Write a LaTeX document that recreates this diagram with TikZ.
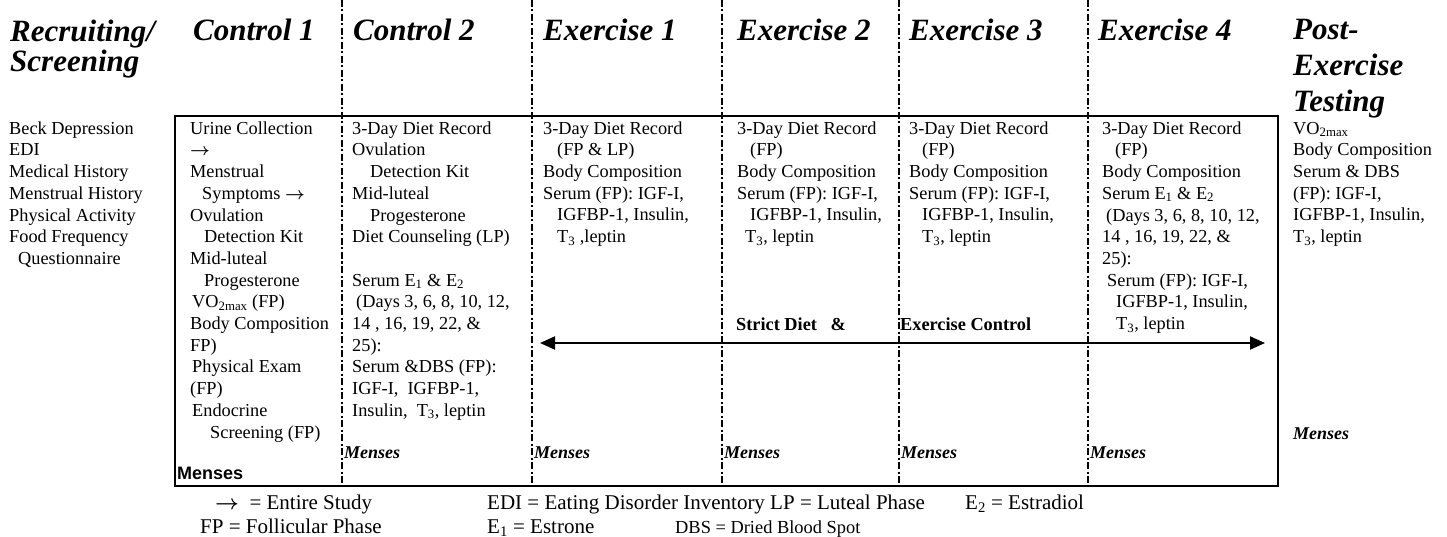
\documentclass[tikz,border=0pt]{standalone}
\usepackage{fontspec}
\setmainfont{Liberation Serif}
\newfontfamily\mensfont{Liberation Sans}
\usepackage{tikz}
\usetikzlibrary{positioning}
\usetikzlibrary{arrows.meta}
\newcommand{\colfont}{\fontsize{18.3}{21.7}\selectfont}
\newcommand{\hdrfont}{\fontsize{31}{31}\selectfont\bfseries\itshape}
\newcommand{\legfont}{\fontsize{21}{23}\selectfont}
\newcommand{\topstrut}{\rule{0pt}{15pt}}
\newcommand{\toarrow}{{\boldmath$\rightarrow$}}
\tikzstyle{hdr}=[font=\hdrfont, anchor=base west, inner sep=0pt]
\tikzstyle{col}=[font=\colfont, anchor=north west, inner sep=0pt, align=left]
\tikzstyle{menses}=[font=\fontsize{18}{20}\selectfont\bfseries\itshape, anchor=base west, inner sep=0pt]
\tikzstyle{legend}=[font=\legfont, anchor=base west, inner sep=0pt]
\tikzstyle{divider}=[draw, line width=1.1pt, dash pattern=on 7pt off 2.5pt on 2pt off 2.5pt]
\tikzstyle{frame}=[draw, line width=1.5pt]
\tikzstyle{dietarrow}=[draw, line width=2pt, {Triangle[length=15pt,width=13pt]}-{Triangle[length=15pt,width=13pt]}]
\begin{document}
\begin{tikzpicture}[x=1pt,y=-1pt]
  \useasboundingbox (0,0) rectangle (1447,537);

  % box and dashed dividers
  \draw[frame] (175,116) rectangle (1278,486);
  \foreach \x in {342, 532, 722, 899, 1088}
          \draw[divider] (\x,0) -- (\x,486);

  % headers
  \node[hdr] (recruit) at (10,42) {Recruiting/};
  \node[hdr] (screen) at (10,72) {Screening};
  \foreach \x/\name/\label in {193/ctrlA/Control 1, 353/ctrlB/Control 2, 543/exA/Exercise 1, 737/exB/Exercise 2, 909/exC/Exercise 3, 1098/exD/Exercise 4}
          \node[hdr] (\name) at (\x,41) {\label};
  \foreach \y/\name/\label in {40/postA/Post-, 76/postB/Exercise, 112/postC/Testing}
          \node[hdr] (\name) at (1293,\y) {\label};

  % column texts
  \node[col] (screening) at (9,119) {\topstrut Beck Depression\\ EDI\\ Medical History\\ Menstrual History\\
        Physical Activity\\ Food Frequency\\ \hspace*{9pt}Questionnaire};
  \node[col] (controlA) at (190,119) {\topstrut Urine Collection\\ \toarrow\\ Menstrual\\ \hspace*{12pt}Symptoms \toarrow\\
        Ovulation\\ \hspace*{14pt}Detection Kit\\ Mid-luteal\\ \hspace*{14pt}Progesterone\\
        \hspace*{2pt}VO\textsubscript{2max} (FP)\\ Body Composition\\ FP)\\ \hspace*{2pt}Physical Exam\\ (FP)\\
        \hspace*{2pt}Endocrine\\ \hspace*{20pt}Screening (FP)};
  \node[col] (controlB) at (352,119) {\topstrut 3-Day Diet Record\\ Ovulation\\ \hspace*{18pt}Detection Kit\\
        Mid-luteal\\ \hspace*{18pt}Progesterone\\ Diet Counseling (LP)\\ \\
        Serum E\textsubscript{1} \& E\textsubscript{2}\\ \hspace*{4pt}(Days 3, 6, 8, 10, 12,\\ 14 , 16, 19, 22, \&\\ 25):\\
        Serum \&DBS (FP):\\ IGF-I,\ \ IGFBP-1,\\ Insulin,\ \ T\textsubscript{3}, leptin};
  \node[col] (exerA) at (543,119) {\topstrut 3-Day Diet Record\\ \hspace*{14pt}(FP \& LP)\\ Body Composition\\
        Serum (FP): IGF-I,\\ \hspace*{14pt}IGFBP-1, Insulin,\\ \hspace*{14pt}T\textsubscript{3} ,leptin};
  \node[col] (exerB) at (737,119) {\topstrut 3-Day Diet Record\\ \hspace*{13pt}(FP)\\ Body Composition\\
        Serum (FP): IGF-I,\\ \hspace*{13pt}IGFBP-1, Insulin,\\ \hspace*{8pt}T\textsubscript{3}, leptin};
  \node[col] (exerC) at (909,119) {\topstrut 3-Day Diet Record\\ \hspace*{13pt}(FP)\\ Body Composition\\
        Serum (FP): IGF-I,\\ \hspace*{13pt}IGFBP-1, Insulin,\\ \hspace*{13pt}T\textsubscript{3}, leptin};
  \node[col] (exerD) at (1102,119) {\topstrut 3-Day Diet Record\\ \hspace*{13pt}(FP)\\ Body Composition\\
        Serum E\textsubscript{1} \& E\textsubscript{2}\\ \hspace*{4pt}(Days 3, 6, 8, 10, 12,\\ 14 , 16, 19, 22, \&\\ 25):\\
        \hspace*{5pt}Serum (FP): IGF-I,\\ \hspace*{14pt}IGFBP-1, Insulin,\\ \hspace*{14pt}T\textsubscript{3}, leptin};
  \node[col] (post) at (1293,119) {\topstrut VO\textsubscript{2max}\\ Body Composition\\ Serum \& DBS\\
        (FP): IGF-I,\\ IGFBP-1, Insulin,\\ T\textsubscript{3}, leptin};

  % strict diet arrow
  \coordinate (arrL) at (540,343);
  \coordinate (arrR) at (1265,343);
  \draw[dietarrow] (arrL) -- (arrR);
  \node[anchor=base west, inner sep=0pt, font=\colfont\bfseries] (strict) at (736,330) {Strict Diet\ \ \ \&};
  \node[anchor=base west, inner sep=0pt, font=\colfont\bfseries] (exctrl) at (900,330) {Exercise Control};

  % menses
  \foreach \x/\y/\name in {344/458/mB, 534/458/mC, 724/458/mD, 901/458/mE, 1090/458/mF, 1293/439/mG}
          \node[menses] (\name) at (\x,\y) {Menses};
  \node[anchor=base west, inner sep=0pt, font=\mensfont\fontsize{18}{20}\selectfont\bfseries] (mA) at (177,479) {Menses};

  % legend
  \node[legend] (legA) at (215,509) {\toarrow\ \ = Entire Study};
  \node[legend] (legB) at (487,509) {EDI = Eating Disorder Inventory LP = Luteal Phase};
  \node[legend] (legC) at (965,509) {E\textsubscript{2} = Estradiol};
  \node[legend] (legD) at (200,533) {FP = Follicular Phase};
  \node[legend] (legE) at (487,533) {E\textsubscript{1} = Estrone};
  \node[legend, font=\fontsize{18.4}{20}\selectfont] (legF) at (675,533) {DBS = Dried Blood Spot};

\end{tikzpicture}
\end{document}
